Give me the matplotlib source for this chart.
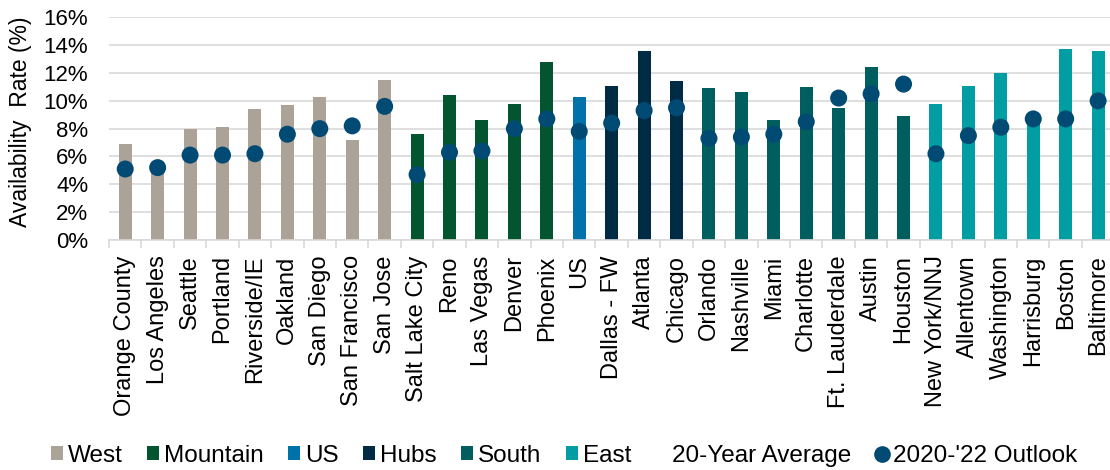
import matplotlib
matplotlib.use("Agg")
import matplotlib.pyplot as plt
from matplotlib.patches import Patch
from matplotlib.lines import Line2D
import numpy as np

plt.rcParams['font.family'] = ['Liberation Sans', 'DejaVu Sans']

markets = ["Orange County", "Los Angeles", "Seattle", "Portland", "Riverside/IE",
           "Oakland", "San Diego", "San Francisco", "San Jose",
           "Salt Lake City", "Reno", "Las Vegas", "Denver", "Phoenix",
           "US",
           "Dallas - FW", "Atlanta", "Chicago",
           "Orlando", "Nashville", "Miami", "Charlotte", "Ft. Lauderdale", "Austin", "Houston",
           "New York/NNJ", "Allentown", "Washington", "Harrisburg", "Boston", "Baltimore"]
regions = (["West"] * 9 + ["Mountain"] * 5 + ["US"] + ["Hubs"] * 3 +
           ["South"] * 7 + ["East"] * 6)
avg_20yr = [6.9, 5.0, 8.0, 8.1, 9.4, 9.7, 10.3, 7.2, 11.5,
            7.6, 10.4, 8.6, 9.8, 12.8,
            10.3,
            11.1, 13.6, 11.4,
            10.9, 10.6, 8.6, 11.0, 9.5, 12.4, 8.9,
            9.8, 11.1, 12.0, 8.5, 13.7, 13.6]
outlook = [5.1, 5.2, 6.1, 6.1, 6.2, 7.6, 8.0, 8.2, 9.6,
           4.7, 6.3, 6.4, 8.0, 8.7,
           7.8,
           8.4, 9.3, 9.5,
           7.3, 7.4, 7.6, 8.5, 10.2, 10.5, 11.2,
           6.2, 7.5, 8.1, 8.7, 8.7, 10.0]
region_names = ["West", "Mountain", "US", "Hubs", "South", "East"]
region_colors = {"West": "#ABA298", "Mountain": "#03552F", "US": "#0072AA",
                 "Hubs": "#002B45", "South": "#005F5E", "East": "#009DA2"}
dot_color = "#004A73"

W, H = 1110, 470
fig = plt.figure(figsize=(W / 100, H / 100), dpi=100)
n = len(markets)
left_px, bottom_px, top_px = 109, 240, 17.3
spacing = 32.43
ax = fig.add_axes([left_px / W, (H - bottom_px) / H, n * spacing / W, (bottom_px - top_px) / H])

x = np.arange(n)
colors = [region_colors[r] for r in regions]
ax.bar(x, avg_20yr, width=0.40, color=colors, zorder=2)
ax.scatter(x, outlook, s=150, color=dot_color, zorder=3, edgecolors='none')

ax.set_xlim(-0.5, n - 0.5)
ax.set_ylim(0, 16)
ax.set_yticks(np.arange(0, 17, 2))
ax.set_yticklabels([f"{v}%" for v in range(0, 17, 2)], fontsize=16, color="#000000")
ax.tick_params(axis='y', length=0, pad=15)
ax.yaxis.grid(True, color="#D9D9D9", linewidth=1.2, zorder=0)
ax.set_axisbelow(True)

ax.set_xticks(x)
ax.set_xticklabels(markets, rotation=90, fontsize=17)
ax.tick_params(axis='x', length=0, pad=11)
ax.set_xticks(np.arange(-0.5, n, 1), minor=True)
ax.tick_params(axis='x', which='minor', length=6, color="#D9D9D9", width=1.2)

for s in ["top", "right", "left"]:
    ax.spines[s].set_visible(False)
ax.spines["bottom"].set_color("#D9D9D9")
ax.spines["bottom"].set_linewidth(1.2)

fig.text(21 / W, (H - 122) / H, "Availability  Rate (%)", rotation=90,
         ha='center', va='center', fontsize=16.5)

handles = [Patch(facecolor=region_colors[r], edgecolor='none') for r in region_names]
handles.append(Line2D([], [], linestyle='none', marker=None))
handles.append(Line2D([], [], linestyle='none', marker='o', markersize=11,
                      color=dot_color))
labels = region_names + ["20-Year Average", "2020-'22 Outlook"]
fig.legend(handles, labels, loc='center', bbox_to_anchor=(0.508, (H - 456) / H),
           ncol=8, frameon=False, fontsize=17.5, handlelength=0.5, handleheight=0.5,
           handletextpad=0.2, columnspacing=1.0, borderpad=0)

fig.savefig("out.png", dpi=100)
